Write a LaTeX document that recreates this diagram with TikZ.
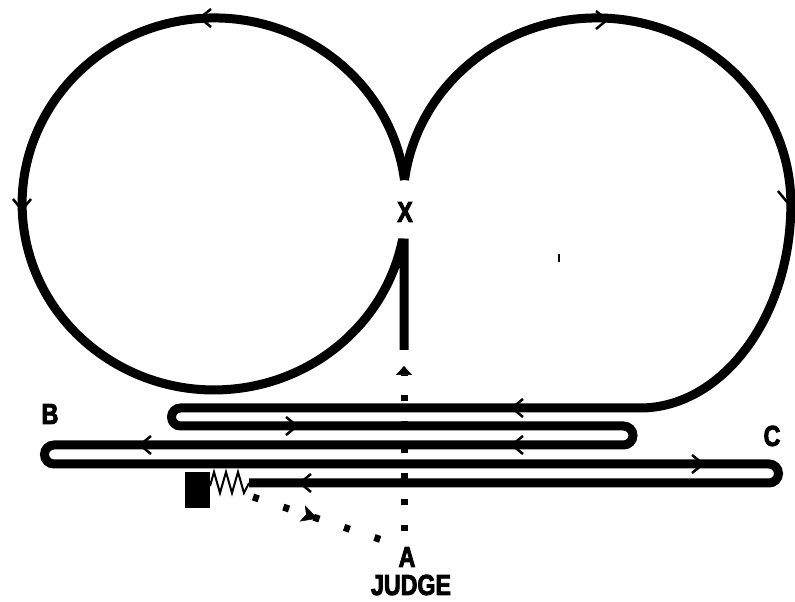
\documentclass[tikz,border=0pt]{standalone}
\usepackage{fontspec}
\setmainfont{Liberation Sans}[FakeStretch=0.8, BoldFeatures={FakeBold=3}]
\usetikzlibrary{arrows.meta,decorations.markings}

\begin{document}
\begin{tikzpicture}[x=1pt, y=1pt,
		track/.style = {line width=9pt, line cap=butt},
		barb/.style = {line width=2.5pt, line join=miter},
		dots/.style = {line width=7pt, dash pattern=on 6pt off 20pt},
		lbl/.style = {font=\fontsize{29}{29}\selectfont\bfseries, inner sep=0pt}]
	\useasboundingbox (0,0) rectangle (795,602);
	
	\node[lbl] (X) at (405,390) {X};
	\node[lbl] (A) at (407,45) {A};
	\node[lbl] (judge) at (411,17) {JUDGE};
	\node[lbl] (B) at (50,188) {B};
	\node[lbl] (C) at (772,166) {C};
	
	\coordinate (cusp) at (404.5,422);
	\coordinate (start) at (404,71);
	\coordinate (spring) at (253,105);
	\coordinate (turn) at (382,62);
	
	\draw[dots, -{Triangle[length=9pt, width=16pt, line width=0.5pt]}] (start) -- (404,236);
	\draw[dots, dash pattern=on 6pt off 26pt,
		postaction={solid, decorate, decoration={markings,
			mark=at position 0.5 with {\arrow{Stealth[length=16pt, width=17pt, inset=4pt, line width=0.5pt]}}}}]
		(spring) -- (turn);
	
	\draw[track] (cusp) arc[start angle=7.4, end angle=347.9, x radius=192, y radius=186] -- (404,359) -- (404,252);
	\draw[track] (cusp) arc[start angle=172.6, end angle=0, x radius=194, y radius=186]
		.. controls (791,285) and (722,194) .. (640,194)
		-- (180.5,194) arc[start angle=90, end angle=270, radius=9]
		-- (623.5,176) arc[start angle=90, end angle=-90, radius=9.5]
		-- (54,157) arc[start angle=90, end angle=270, radius=9.5]
		-- (769,138) arc[start angle=90, end angle=-90, radius=9.5]
		-- (249,119);
	
	\draw[line width=2pt, line join=miter] (249,119) -- (244,109) -- (238,130) -- (232,109)
		-- (226,130) -- (220,109) -- (214,130) -- (210,116);
	\fill (185,94) rectangle (210,130);
	
	\foreach \x/\y/\a in {200/584/180, 22/392/270, 607/582/0, 787/400/270, 512/194/180,
		297/176/0, 512/157/180, 140/157/180, 703/138/0, 300/119/180}
		\draw[barb, shift={(\x,\y)}, rotate=\a] (-11,9) -- (0,0) -- (-11,-9);
	
	\draw[line width=2.5pt] (559,340) -- (559,348);
\end{tikzpicture}
\end{document}
